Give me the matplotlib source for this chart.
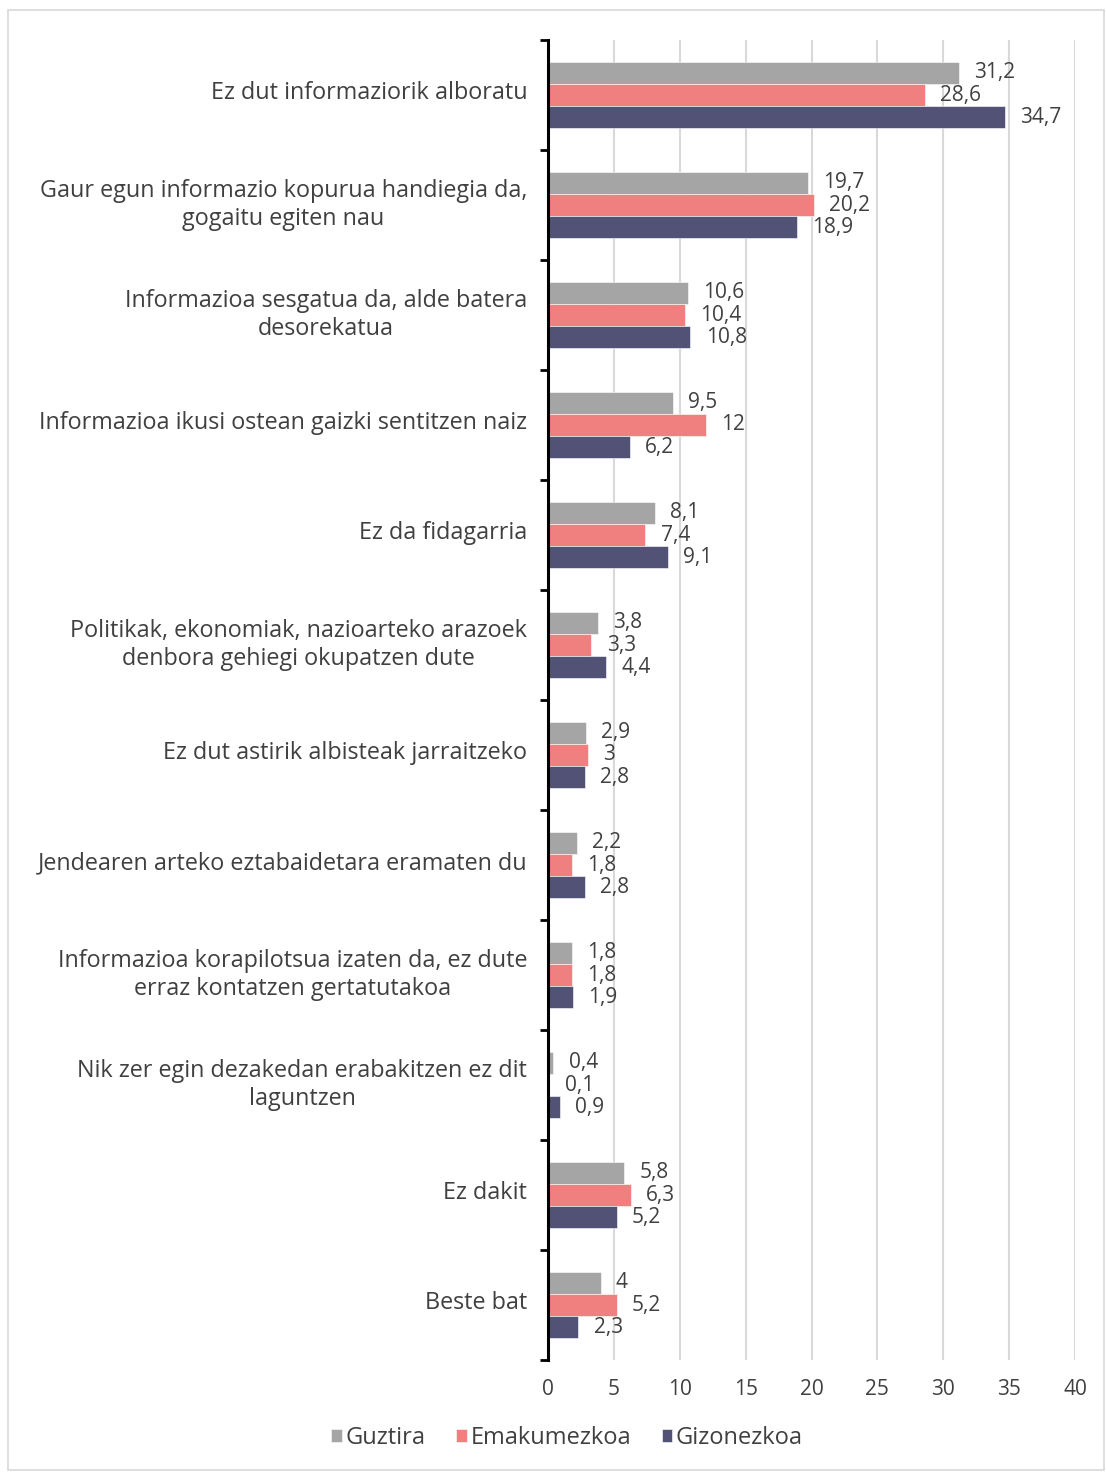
import matplotlib
matplotlib.use("Agg")
import matplotlib.pyplot as plt
import numpy as np
from matplotlib.patches import Rectangle

categories = [
    "Ez dut informaziorik alboratu",
    "Gaur egun informazio kopurua handiegia da,\ngogaitu egiten nau",
    "Informazioa sesgatua da, alde batera\ndesorekatua",
    "Informazioa ikusi ostean gaizki sentitzen naiz",
    "Ez da fidagarria",
    "Politikak, ekonomiak, nazioarteko arazoek\ndenbora gehiegi okupatzen dute",
    "Ez dut astirik albisteak jarraitzeko",
    "Jendearen arteko eztabaidetara eramaten du",
    "Informazioa korapilotsua izaten da, ez dute\nerraz kontatzen gertatutakoa",
    "Nik zer egin dezakedan erabakitzen ez dit\nlaguntzen",
    "Ez dakit",
    "Beste bat",
]
guztira = [31.2, 19.7, 10.6, 9.5, 8.1, 3.8, 2.9, 2.2, 1.8, 0.4, 5.8, 4]
emakumezkoa = [28.6, 20.2, 10.4, 12, 7.4, 3.3, 3, 1.8, 1.8, 0.1, 6.3, 5.2]
gizonezkoa = [34.7, 18.9, 10.8, 6.2, 9.1, 4.4, 2.8, 2.8, 1.9, 0.9, 5.2, 2.3]
series_names = ["Guztira", "Emakumezkoa", "Gizonezkoa"]
colors = ["#A5A5A5", "#F08080", "#525276"]
x_ticks = [0, 5, 10, 15, 20, 25, 30, 35, 40]

plt.rcParams['font.family'] = ['Open Sans', 'DejaVu Sans']
text_color = "#404040"

fig = plt.figure(figsize=(11.06, 14.74), dpi=100)
ax = fig.add_axes([548/1106, 1-1360/1474, (1075-548)/1106, (1360-40)/1474])

n = len(categories)
y = np.arange(n)
h = 0.203
for i, (vals, name, c) in enumerate(zip([guztira, emakumezkoa, gizonezkoa], series_names, colors)):
    pos = y + (i - 1) * h
    bars = ax.barh(pos, vals, height=h, color=c, label=name, edgecolor='white', linewidth=0.4, zorder=3)
    for b, v in zip(bars, vals):
        s = f"{v:g}".replace('.', ',')
        ax.annotate(s, xy=(v, b.get_y() + b.get_height()/2), xytext=(11, 0),
                    textcoords='offset points', va='center', ha='left',
                    fontsize=15, color=text_color, zorder=4)

ax.set_ylim(n - 0.5, -0.5)
ax.set_xlim(0, 40)
ax.set_xticks(x_ticks)
ax.set_xticklabels([str(t) for t in x_ticks], fontsize=15, color=text_color)
ax.tick_params(axis='x', length=0, pad=14)
ax.grid(axis='x', color='#D9D9D9', linewidth=1.5, zorder=0)
ax.xaxis.get_gridlines()[0].set_visible(False)

ax.set_yticks(np.arange(n + 1) - 0.5)
ax.set_yticklabels([])
ax.tick_params(axis='y', which='major', length=6, width=2, color='black', direction='out')
ax.set_yticks(y - 0.045, minor=True)
ax.set_yticklabels(categories, minor=True, fontsize=16.8, color=text_color)
ax.tick_params(axis='y', which='minor', length=0, pad=15)
for lbl in ax.get_yticklabels(minor=True):
    lbl.set_multialignment('center')
    lbl.set_linespacing(1.2)

for sp in ['top', 'right', 'bottom']:
    ax.spines[sp].set_visible(False)
ax.spines['left'].set_linewidth(2.2)
ax.spines['left'].set_color('black')
ax.spines['left'].set_zorder(5)

leg = fig.legend(loc='center', bbox_to_anchor=(567/1106, 1-1438/1474), ncol=3, frameon=False,
                 fontsize=17, handlelength=0.45, handleheight=0.45, handletextpad=0.15,
                 columnspacing=1.3, labelcolor=text_color)

fig.patches.append(Rectangle((8/1106, 4/1474), 1096/1106, 1460/1474, transform=fig.transFigure,
                             fill=False, edgecolor='#D9D9D9', linewidth=1.2))

fig.savefig("out.png", dpi=100)
